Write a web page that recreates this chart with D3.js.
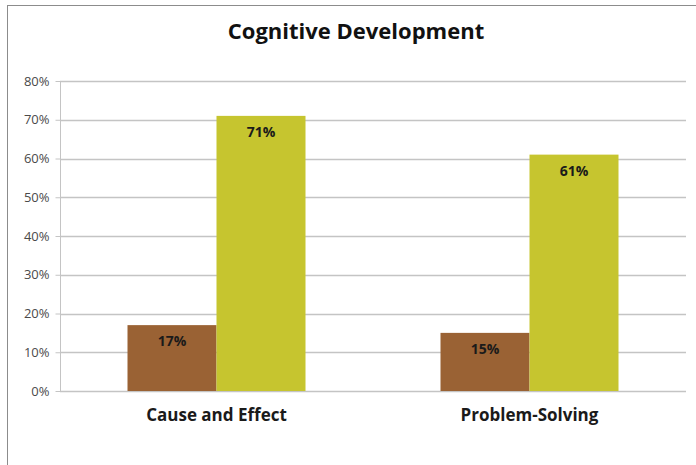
<!DOCTYPE html>
<html>
<head>
<meta charset="utf-8">
<script src="https://cdn.jsdelivr.net/npm/d3@7"></script>
<style>
  body { margin: 0; background: #fff; }
  text { font-family: "Open Sans", "Noto Sans", sans-serif; }
</style>
</head>
<body>
<svg id="chart" width="696" height="465"></svg>
<script>
// data
var categories = ["Cause and Effect", "Problem-Solving"];
var seriesA = [17, 15];   // brown
var seriesB = [71, 61];   // yellow-green
var yTicks = [0, 10, 20, 30, 40, 50, 60, 70, 80];

var svg = d3.select("#chart");
var margin = {left: 60, right: 10, top: 81, bottom: 74};
var W = 696, H = 465;

// outer frame
svg.append("rect")
   .attr("x", 7.5).attr("y", 5.5)
   .attr("width", 700).attr("height", 470)
   .attr("fill", "#fff").attr("stroke", "#8c8c8c").attr("stroke-width", 1);

var x = d3.scaleBand().domain(categories)
   .range([margin.left, W - margin.right])
   .paddingInner(0).paddingOuter(0);
var y = d3.scaleLinear().domain([0, 80]).range([H - margin.bottom, margin.top]);

var g = svg.append("g");

// gridlines
g.selectAll("line.grid").data(yTicks).enter().append("line")
   .attr("class", "grid")
   .attr("x1", margin.left).attr("x2", W - margin.right)
   .attr("y1", d => Math.round(y(d)) + 0.5).attr("y2", d => Math.round(y(d)) + 0.5)
   .attr("stroke", "#c4c4c4").attr("stroke-width", 1.3);

// y axis
var yAxis = d3.axisLeft(y).tickValues(yTicks).tickFormat(d => d + "%").tickSize(5).tickPadding(6);
var ya = svg.append("g").attr("transform", "translate(" + (margin.left + 0.5) + ",0)").call(yAxis);
ya.select(".domain").attr("stroke", "#c4c4c4").attr("d", "M0," + y(80) + "V" + y(0));
ya.selectAll(".tick line").attr("stroke", "#c4c4c4");
ya.selectAll(".tick text").attr("fill", "#4a4a4a").style("font-size", "13px");

// bars
var barW = 89;
var inner = d3.scaleBand().domain(["a", "b"]).range([0, barW * 2]);
var groups = svg.selectAll("g.cat").data(categories).enter().append("g")
   .attr("class", "cat")
   .attr("transform", d => "translate(" + (x(d) + x.bandwidth() / 2 - barW) + ",0)");

var series = [
  {key: "a", values: seriesA, color: "#9a6234"},
  {key: "b", values: seriesB, color: "#c6c52f"}
];

series.forEach(function(s) {
  groups.append("rect")
     .attr("x", inner(s.key))
     .attr("width", inner.bandwidth())
     .attr("y", (d, i) => y(s.values[i]))
     .attr("height", (d, i) => y(0) - y(s.values[i]))
     .attr("fill", s.color);
  groups.append("text")
     .attr("x", inner(s.key) + inner.bandwidth() / 2)
     .attr("y", (d, i) => y(s.values[i]) + 21)
     .attr("text-anchor", "middle")
     .style("font-size", "14px").style("font-weight", "bold")
     .attr("fill", "#1a1a1a")
     .text((d, i) => s.values[i] + "%");
});

// category labels
svg.selectAll("text.cat").data(categories).enter().append("text")
   .attr("class", "cat")
   .attr("x", d => x(d) + x.bandwidth() / 2)
   .attr("y", 421)
   .attr("text-anchor", "middle")
   .style("font-size", "17px").style("font-weight", "bold")
   .attr("fill", "#1a1a1a")
   .text(d => d);

// title
svg.append("text")
   .attr("x", 356).attr("y", 39)
   .attr("text-anchor", "middle")
   .style("font-size", "22px").style("font-weight", "bold")
   .attr("fill", "#111")
   .text("Cognitive Development");
</script>
</body>
</html>
